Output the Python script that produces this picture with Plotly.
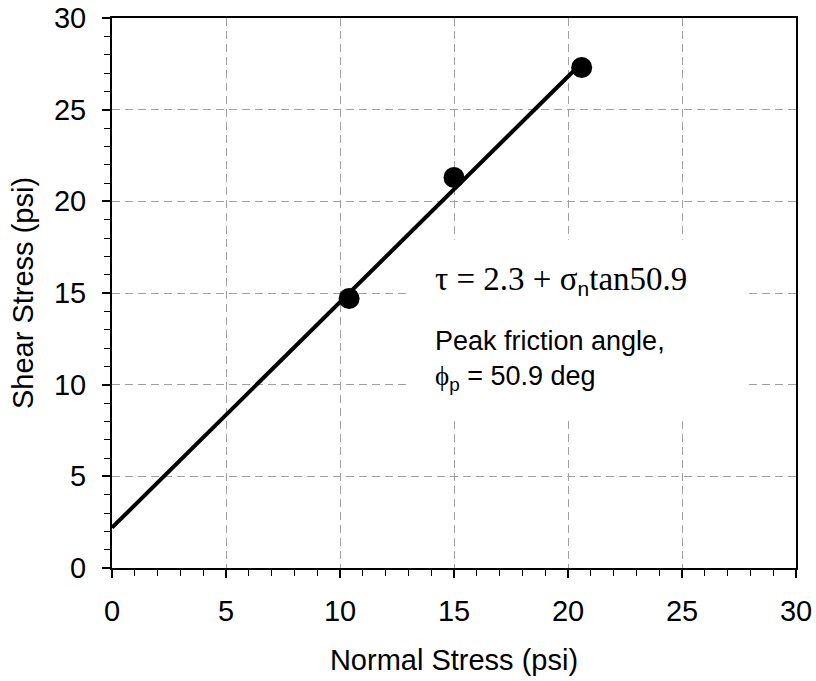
import plotly.graph_objects as go

# Data
normal_stress = [10.4, 15.0, 20.6]
shear_stress = [14.7, 21.3, 27.3]
fit_x = [0.0, 20.4]
fit_y = [2.2, 27.3]
x_ticks = [0, 5, 10, 15, 20, 25, 30]
y_ticks = [0, 5, 10, 15, 20, 25, 30]
equation_text = "τ = 2.3 + σ<span style='font-family:Liberation Sans;font-size:30px'><sub>n</sub></span>tan50.9"
note_text = "Peak friction angle,<br><span style='font-family:Liberation Serif'>ϕ</span><sub>p</sub> = 50.9 deg"

SANS = "Liberation Sans, Arial, sans-serif"
SERIF = "Liberation Serif, Times New Roman, serif"
FS = 29

fig = go.Figure()
fig.add_trace(go.Scatter(x=fit_x, y=fit_y, mode="lines",
                         line=dict(color="black", width=4), showlegend=False))
fig.add_trace(go.Scatter(x=normal_stress, y=shear_stress, mode="markers",
                         marker=dict(color="black", size=21), showlegend=False))

# white box behind the annotation text, hiding gridlines
fig.add_shape(type="rect", x0=13.07, x1=27.76, y0=8.19, y1=17.9,
              fillcolor="white", line=dict(width=0), layer="between")

fig.add_annotation(x=14.1, y=15.7, xref="x", yref="y", text=equation_text,
                   showarrow=False, xanchor="left", yanchor="middle",
                   font=dict(family=SERIF, size=33, color="black"))
fig.add_annotation(x=14.1, y=11.3, xref="x", yref="y", text=note_text,
                   showarrow=False, xanchor="left", yanchor="middle", align="left",
                   font=dict(family=SANS, size=27, color="black"))

axis_common = dict(
    showline=True, linecolor="black", linewidth=2, mirror=True,
    ticks="outside", ticklen=8, tickwidth=1.5, tickcolor="black",
    showgrid=True, gridcolor="#a0a0a0", gridwidth=1, griddash="8px,5px",
    zeroline=False, tickfont=dict(family=SANS, size=FS, color="black"),
    minor=dict(ticks="outside", ticklen=6, tickwidth=1, tickcolor="black",
               dtick=1, showgrid=False),
    range=[0, 30], tickmode="array",
)

fig.update_xaxes(**axis_common, tickvals=x_ticks, ticktext=[str(v) for v in x_ticks],
                 ticklabelstandoff=8,
                 title=dict(text="Normal Stress (psi)", font=dict(family=SANS, size=FS, color="black"),
                            standoff=24))
fig.update_yaxes(**axis_common, tickvals=y_ticks, ticktext=[str(v) for v in y_ticks],
                 ticklabelstandoff=10,
                 title=dict(text="Shear Stress (psi)", font=dict(family=SANS, size=FS, color="black"),
                            standoff=12))

fig.update_layout(width=816, height=681, margin=dict(l=112, r=20, t=18, b=113, autoexpand=False),
                  plot_bgcolor="white", paper_bgcolor="white")

fig.write_html("out.html")
